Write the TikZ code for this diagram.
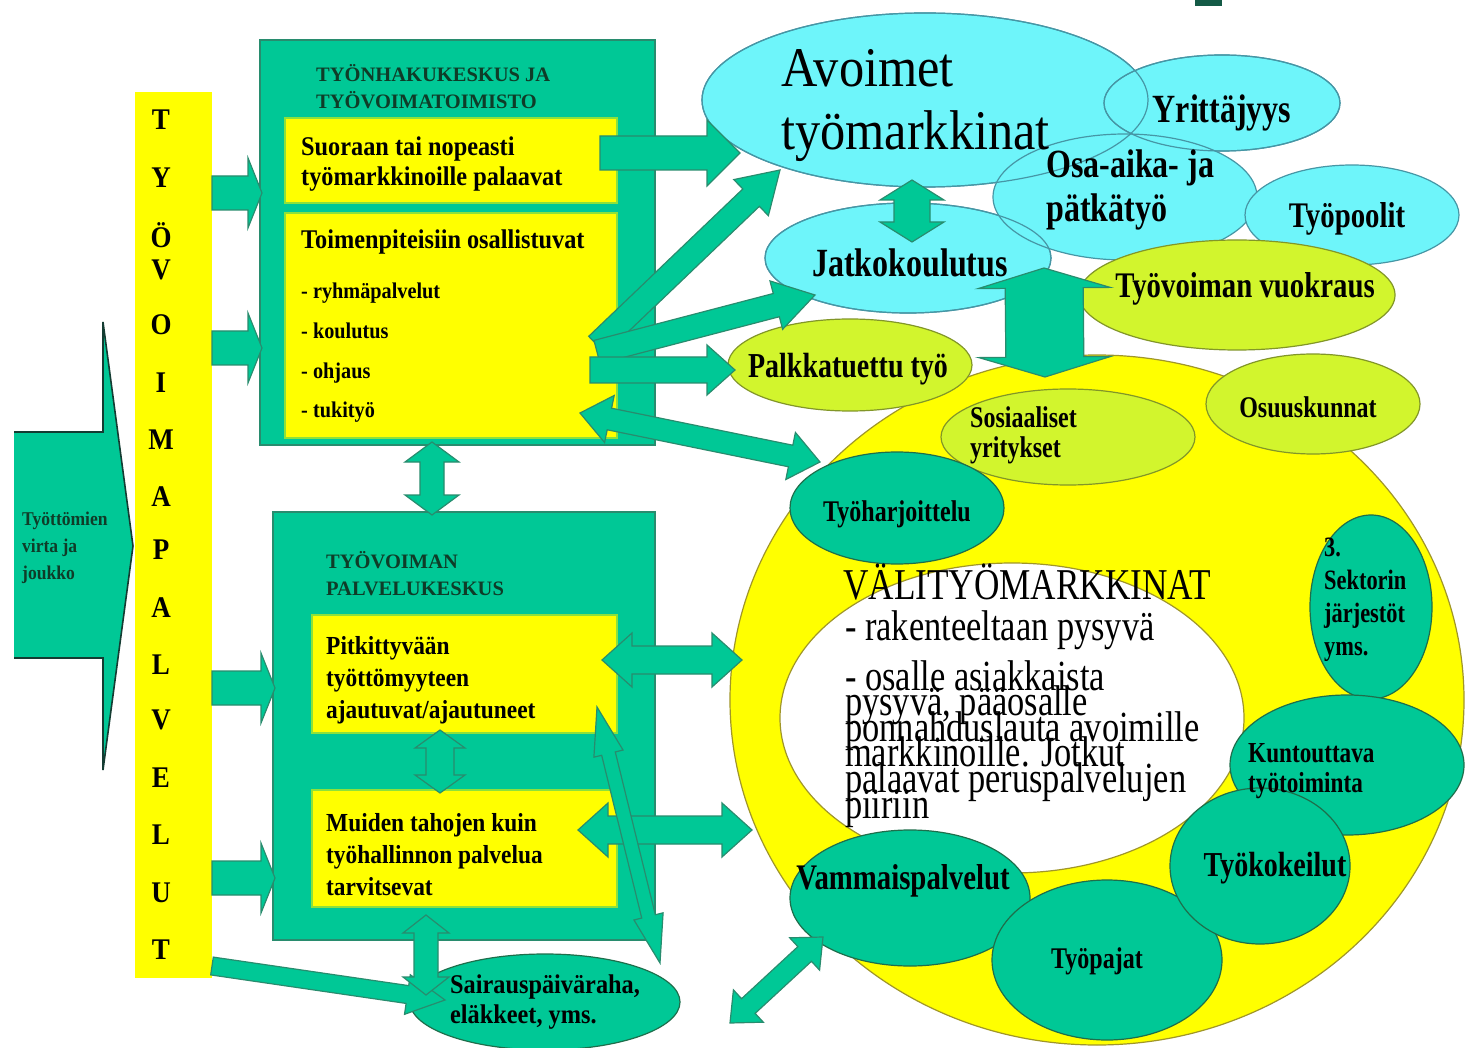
\documentclass[tikz,border=0pt]{standalone}
\usepackage{fontspec}
\setmainfont{Liberation Serif}
\newfontfamily\tf[FakeStretch=0.9]{Liberation Serif}
\newfontfamily\tc[FakeStretch=0.8]{Liberation Serif}
\usetikzlibrary{shapes.geometric,calc}

\definecolor{tealf}{RGB}{0,200,150}
\definecolor{teald}{RGB}{40,140,110}
\definecolor{tealdd}{RGB}{30,110,75}
\definecolor{yel}{RGB}{255,255,0}
\definecolor{ygreen}{RGB}{140,225,60}
\definecolor{cyanf}{RGB}{110,245,250}
\definecolor{cyand}{RGB}{70,150,165}
\definecolor{limef}{RGB}{210,245,45}
\definecolor{limed}{RGB}{130,150,40}
\definecolor{olive}{RGB}{160,150,40}
\definecolor{dtext}{RGB}{15,60,40}
\definecolor{cornergreen}{RGB}{20,90,70}
\definecolor{edgedark}{RGB}{20,60,50}

% single block arrow: from, to, shaft half width, head half width, head length
\newcommand\blockarrow[5]{%
  \coordinate (hb) at ($(#2)!#5pt!(#1)$);
  \filldraw[blk] ($(#1)!#3pt!90:(#2)$) -- ($(hb)!#3pt!90:(#2)$) -- ($(hb)!#4pt!90:(#2)$)
    -- (#2) -- ($(hb)!#4pt!-90:(#2)$) -- ($(hb)!#3pt!-90:(#2)$) -- ($(#1)!#3pt!-90:(#2)$) -- cycle;
}
% double block arrow: end, end, shaft half width, head half width, head length
\newcommand\dblarrow[5]{%
  \coordinate (ha) at ($(#1)!#5pt!(#2)$);
  \coordinate (hb) at ($(#2)!#5pt!(#1)$);
  \filldraw[blk] (#1) -- ($(ha)!#4pt!90:(#2)$) -- ($(ha)!#3pt!90:(#2)$) -- ($(hb)!#3pt!90:(#2)$)
    -- ($(hb)!#4pt!90:(#2)$) -- (#2) -- ($(hb)!#4pt!-90:(#2)$) -- ($(hb)!#3pt!-90:(#2)$)
    -- ($(ha)!#3pt!-90:(#2)$) -- ($(ha)!#4pt!-90:(#2)$) -- cycle;
}

\begin{document}
\begin{tikzpicture}[x=1pt,y=-1pt,
  box/.style={rectangle, fill=tealf, draw=teald, line width=1.5pt, inner sep=0pt},
  ybox/.style={rectangle, fill=yel, draw=ygreen, line width=2pt, inner sep=0pt},
  ell/.style={ellipse, inner sep=0pt, line width=1.2pt},
  cyanell/.style={ell, fill=cyanf, draw=cyand},
  limeell/.style={ell, fill=limef, draw=limed},
  tealell/.style={ell, fill=tealf, draw=tealdd},
  bigell/.style={ell, fill=yel, draw=olive},
  whiteell/.style={ell, fill=white, draw=olive},
  blk/.style={fill=tealf, draw=teald, line width=1.2pt, line join=miter},
  txt/.style={inner sep=0pt, align=left, text=black},
  vl/.style={inner sep=0pt, font=\tf\bfseries\fontsize{30}{30}\selectfont}]

\useasboundingbox (0,0) rectangle (1470,1048);
\fill[white] (0,0) rectangle (1470,1048);
\fill[cornergreen] (1195,0) rectangle (1222,6);

% ---------- intermediate labour market and open market ----------
\node[bigell, minimum width=734, minimum height=690] (valy) at (1097,700) {};
\node[whiteell, minimum width=464, minimum height=310] (ydin) at (1012,718) {};
\node[cyanell, minimum width=446, minimum height=174] (avo) at (925,100) {};
\node[cyanell, minimum width=286, minimum height=110] (jat) at (908,258) {};
\node[cyanell, minimum width=236, minimum height=96] (yri) at (1222,103) {};
\node[cyanell, minimum width=264, minimum height=126] (osa) at (1125,197) {};
\node[cyanell, minimum width=214, minimum height=100] (poo) at (1352,215) {};
% outlines of the overlapping light-blue ellipses stay visible
\draw[cyand, line width=1.2pt] (avo.center) ellipse [x radius=223, y radius=87];
\draw[cyand, line width=1.2pt] (jat.center) ellipse [x radius=143, y radius=55];
\draw[cyand, line width=1.2pt] (yri.center) ellipse [x radius=118, y radius=48];
\node[limeell, minimum width=316, minimum height=110] (vuo) at (1237,295) {};
\node[limeell, minimum width=244, minimum height=92] (pal) at (850,365) {};
\node[limeell, minimum width=214, minimum height=100] (osu) at (1313,404) {};
\node[limeell, minimum width=254, minimum height=96] (sos) at (1068,437) {};
\node[tealell, minimum width=214, minimum height=112] (har) at (897,508) {};
\node[tealell, minimum width=122, minimum height=184] (sek) at (1371,607) {};
\node[tealell, minimum width=234, minimum height=140] (kun) at (1347,765) {};
\node[tealell, minimum width=240, minimum height=136] (vam) at (910,898) {};
\node[tealell, minimum width=230, minimum height=160] (paj) at (1107,960) {};
\node[tealell, minimum width=180, minimum height=156] (kok) at (1260,866) {};

\coordinate (j1) at (912,180); \coordinate (j2) at (912,242);
\dblarrow{j1}{j2}{18}{32}{20}
\coordinate (k1) at (1044,268); \coordinate (k2) at (1045,377);
\dblarrow{k1}{k2}{39}{66}{20}

% ---------- services column ----------
\node[rectangle, fill=yel, minimum width=77, minimum height=886, inner sep=0pt] (bar) at (173.5,535) {};
\foreach \L/\yy [count=\i] in {T/120,Y/178,Ö/235,V/270,O/325,I/383,M/440,A/497,P/550,A/608,L/665,V/720,E/778,L/835,U/893,T/950}
  \node[vl] (v\i) at (161,\yy) {\L};

% incoming flow
\filldraw[fill=tealf, draw=edgedark, line width=1.6pt] (14,432) -- (103,432) -- (103,322) -- (133,546)
  -- (103,770) -- (103,658) -- (14,658);
\node[txt, anchor=west, text=dtext, font=\tf\bfseries\fontsize{19.5}{27}\selectfont] (virta) at (22,548) {Työttömien\\virta ja\\joukko};

% ---------- offices ----------
\node[box, minimum width=395, minimum height=405] (thk) at (457.5,242.5) {};
\node[box, minimum width=382, minimum height=428] (tpk) at (464,726) {};
\node[ybox, minimum width=332, minimum height=85] (suo) at (451,160.5) {};
\node[ybox, minimum width=332, minimum height=225] (toi) at (451,325.5) {};
\node[ybox, minimum width=305, minimum height=118] (pit) at (464.5,674) {};
\node[ybox, minimum width=305, minimum height=117] (mui) at (464.5,848.5) {};
\node[tealell, minimum width=270, minimum height=96] (sai) at (545,1002) {};

% arrows from the services column
\coordinate (b1s) at (212,193); \coordinate (b1e) at (262,193);
\coordinate (b2s) at (212,348); \coordinate (b2e) at (262,348);
\coordinate (b3s) at (212,688); \coordinate (b3e) at (275,688);
\coordinate (b4s) at (212,878); \coordinate (b4e) at (275,878);
\coordinate (b5s) at (212,966); \coordinate (b5e) at (445,1000);
\blockarrow{b1s}{b1e}{17}{35}{14}
\blockarrow{b2s}{b2e}{17}{35}{14}
\blockarrow{b3s}{b3e}{17}{35}{14}
\blockarrow{b4s}{b4e}{17}{35}{14}
\blockarrow{b5s}{b5e}{9}{20}{38}

% arrows between the offices
\coordinate (d1) at (432,442); \coordinate (d2) at (432,515);
\dblarrow{d1}{d2}{12}{27}{20}
\coordinate (d3) at (440,730); \coordinate (d4) at (440,793);
\dblarrow{d3}{d4}{14}{25}{18}
\coordinate (d5) at (426,915); \coordinate (d6) at (426,995);
\dblarrow{d5}{d6}{12}{23}{18}

% arrows towards the labour markets
\coordinate (a1s) at (600,153); \coordinate (a1e) at (740,153);
\blockarrow{a1s}{a1e}{17}{33}{33}
\coordinate (a2s) at (597,345); \coordinate (a2e) at (780,170);
\blockarrow{a2s}{a2e}{12}{25}{40}
\coordinate (a3s) at (597,352); \coordinate (a3e) at (815,295);
\blockarrow{a3s}{a3e}{12}{25}{40}
\coordinate (a4s) at (590,370); \coordinate (a4e) at (735,370);
\blockarrow{a4s}{a4e}{13}{25}{28}
\coordinate (a5s) at (580,413); \coordinate (a5e) at (820,462);
\dblarrow{a5s}{a5e}{11}{24}{30}
\coordinate (f1) at (602,660); \coordinate (f2) at (742,660);
\dblarrow{f1}{f2}{14}{27}{30}
\coordinate (g1) at (578,830); \coordinate (g2) at (752,830);
\dblarrow{g1}{g2}{14}{27}{30}
\coordinate (h1) at (597,707); \coordinate (h2) at (660,963);
\dblarrow{h1}{h2}{7}{15}{48}
\coordinate (i1) at (730,1023); \coordinate (i2) at (823,937);
\dblarrow{i1}{i2}{10}{22}{25}

% ---------- texts ----------
\node[txt, anchor=west, text=dtext, font=\bfseries\fontsize{20.5}{27}\selectfont] (thkt) at (316,87) {TYÖNHAKUKESKUS JA\\TYÖVOIMATOIMISTO};
\node[txt, anchor=west, font=\tf\bfseries\fontsize{27}{30}\selectfont] (suot) at (301,164) {Suoraan tai nopeasti\\työmarkkinoille palaavat};
\node[txt, anchor=west, font=\tf\bfseries\fontsize{27}{30}\selectfont] (toit) at (301,242) {Toimenpiteisiin osallistuvat};
\node[txt, anchor=west, font=\tf\bfseries\fontsize{22.5}{39.7}\selectfont] (toil) at (301,353) {- ryhmäpalvelut\\- koulutus\\- ohjaus\\- tukityö};
\node[txt, anchor=west, text=dtext, font=\bfseries\fontsize{20.5}{27}\selectfont] (tpkt) at (326,574) {TYÖVOIMAN\\PALVELUKESKUS};
\node[txt, anchor=west, font=\tf\bfseries\fontsize{26}{32}\selectfont] (pitt) at (326,680) {Pitkittyvään\\työttömyyteen\\ajautuvat/ajautuneet};
\node[txt, anchor=west, font=\tf\bfseries\fontsize{26}{32}\selectfont] (muit) at (326,855) {Muiden tahojen kuin\\työhallinnon palvelua\\tarvitsevat};
\node[txt, anchor=west, font=\tf\bfseries\fontsize{27}{30}\selectfont] (sait) at (450,1002) {Sairauspäiväraha,\\eläkkeet, yms.};

\node[txt, anchor=west, font=\tf\fontsize{56}{63}\selectfont] (avot) at (781,106) {Avoimet\\työmarkkinat};
\node[txt, font=\tc\bfseries\fontsize{40}{44}\selectfont] (yrit) at (1222,113) {Yrittäjyys};
\node[txt, anchor=west, font=\tc\bfseries\fontsize{40}{44}\selectfont] (osat) at (1046,190) {Osa-aika- ja\\pätkätyö};
\node[txt, font=\tc\bfseries\fontsize{36}{40}\selectfont] (poot) at (1347,219) {Työpoolit};
\node[txt, font=\tc\bfseries\fontsize{40}{44}\selectfont] (jatt) at (910,263) {Jatkokoulutus};
\node[txt, font=\tc\bfseries\fontsize{36}{40}\selectfont] (vuot) at (1245,289) {Työvoiman vuokraus};
\node[txt, font=\tc\bfseries\fontsize{35}{40}\selectfont] (palt) at (848,369) {Palkkatuettu työ};
\node[txt, anchor=west, font=\tc\bfseries\fontsize{30}{30}\selectfont] (sost) at (970,435) {Sosiaaliset\\yritykset};
\node[txt, font=\tc\bfseries\fontsize{30}{34}\selectfont] (osut) at (1308,407) {Osuuskunnat};
\node[txt, font=\tc\bfseries\fontsize{30}{34}\selectfont] (hart) at (897,514) {Työharjoittelu};
\node[txt, anchor=west, font=\tc\bfseries\fontsize{28}{33}\selectfont] (sekt) at (1324,600) {3.\\Sektorin\\järjestöt\\yms.};
\node[txt, anchor=west, font=\tc\bfseries\fontsize{29}{30}\selectfont] (kunt) at (1248,771) {Kuntouttava\\työtoiminta};
\node[txt, font=\tc\bfseries\fontsize{35}{40}\selectfont] (kokt) at (1275,868) {Työkokeilut};
\node[txt, font=\tc\bfseries\fontsize{30}{34}\selectfont] (pajt) at (1097,961) {Työpajat};
\node[txt, font=\tc\bfseries\fontsize{36}{40}\selectfont] (vamt) at (903,881) {Vammaispalvelut};

\node[txt, anchor=west, font=\tc\fontsize{44}{45}\selectfont] (valt) at (843,582) {VÄLITYÖMARKKINAT};
\begin{scope}[every node/.style={txt, anchor=base west, font=\tc\fontsize{43}{45}\selectfont}]
  \node (r1) at (845,640) {- rakenteeltaan pysyvä};
  \node (r2) at (845,690) {- osalle asiakkaista};
  \node (r3) at (845,715) {pysyvä, pääosalle};
  \node (r4) at (845,741) {ponnahduslauta avoimille};
  \node (r5) at (845,766) {markkinoille. Jotkut};
  \node (r6) at (845,792) {palaavat peruspalvelujen};
  \node (r7) at (845,818) {piiriin};
\end{scope}
\end{tikzpicture}
\end{document}
